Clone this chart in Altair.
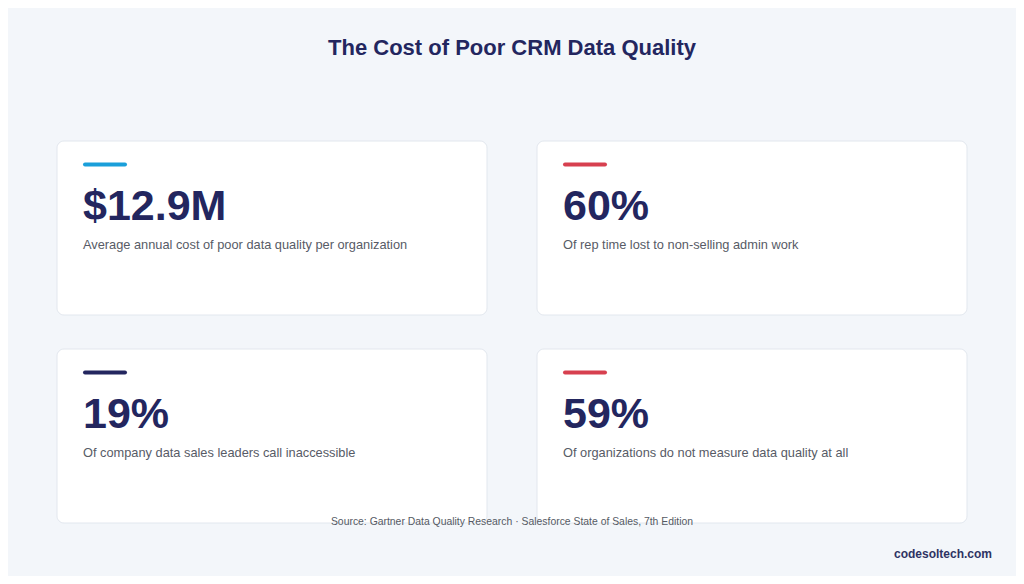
import altair as alt
import pandas as pd

# card contents
stat_values = ["$12.9M", "60%", "19%", "59%"]
stat_labels = [
    "Average annual cost of poor data quality per organization",
    "Of rep time lost to non-selling admin work",
    "Of company data sales leaders call inaccessible",
    "Of organizations do not measure data quality at all",
]
accent_colors = ["#1a9fda", "#d7404f", "#23265f", "#d7404f"]
grid_col = [0, 1, 0, 1]
grid_row = [0, 0, 1, 1]

title_text = "The Cost of Poor CRM Data Quality"
source_text = "Source: Gartner Data Quality Research \u00b7 Salesforce State of Sales, 7th Edition"
brand_text = "codesoltech.com"

NAVY = "#23265f"
FONT = "Liberation Sans"

df = pd.DataFrame({
    "value": stat_values,
    "label": stat_labels,
    "accent": accent_colors,
    "col": grid_col,
    "row": grid_row,
})

W, H = 1008, 568
xs = alt.Scale(domain=[0, 1], range=[49, 959], paddingInner=50 / 480, paddingOuter=0)
ys = alt.Scale(domain=[0, 1], range=[133, 515], paddingInner=34 / 208, paddingOuter=0)

base = alt.Chart(df)

cards = base.mark_rect(
    fill="white", stroke="#e2e7ee", strokeWidth=1, cornerRadius=7
).encode(
    x=alt.X("col:O", scale=xs, axis=None),
    y=alt.Y("row:O", scale=ys, axis=None),
)

accent = base.mark_rule(
    strokeWidth=4, strokeCap="round", xOffset=28, x2Offset=68, yOffset=23.5
).encode(
    x=alt.X("col:O", scale=xs, axis=None, bandPosition=0),
    x2=alt.X2("col", bandPosition=0),
    y=alt.Y("row:O", scale=ys, axis=None, bandPosition=0),
    color=alt.Color("accent:N", scale=None),
)

big_number = base.mark_text(
    align="left", baseline="alphabetic", dx=26, dy=79,
    font=FONT, fontSize=43, fontWeight="bold", color=NAVY,
).encode(
    x=alt.X("col:O", scale=xs, axis=None, bandPosition=0),
    y=alt.Y("row:O", scale=ys, axis=None, bandPosition=0),
    text="value:N",
)

desc = base.mark_text(
    align="left", baseline="alphabetic", dx=26, dy=108,
    font=FONT, fontSize=12.8, color="#575b66",
).encode(
    x=alt.X("col:O", scale=xs, axis=None, bandPosition=0),
    y=alt.Y("row:O", scale=ys, axis=None, bandPosition=0),
    text="label:N",
)

title = alt.Chart(pd.DataFrame({"t": [title_text]})).mark_text(
    align="center", baseline="middle", font=FONT, fontSize=22,
    fontWeight="bold", color=NAVY,
).encode(text="t:N", x=alt.value(W / 2), y=alt.value(40))

source = alt.Chart(pd.DataFrame({"t": [source_text]})).mark_text(
    align="center", baseline="middle", font=FONT, fontSize=10.4, color="#555a64",
).encode(text="t:N", x=alt.value(W / 2), y=alt.value(514))

brand = alt.Chart(pd.DataFrame({"t": [brand_text]})).mark_text(
    align="right", baseline="middle", font=FONT, fontSize=12,
    fontWeight="bold", color="#2e3363",
).encode(text="t:N", x=alt.value(984), y=alt.value(546))

chart = alt.layer(cards, accent, big_number, desc, title, source, brand).properties(
    width=W, height=H, padding=0, background="#f3f6fa",
    autosize=alt.AutoSizeParams(type="none"),
).configure_view(stroke=None)

chart.save("out.html", embed_options={"renderer": "svg", "actions": False})
